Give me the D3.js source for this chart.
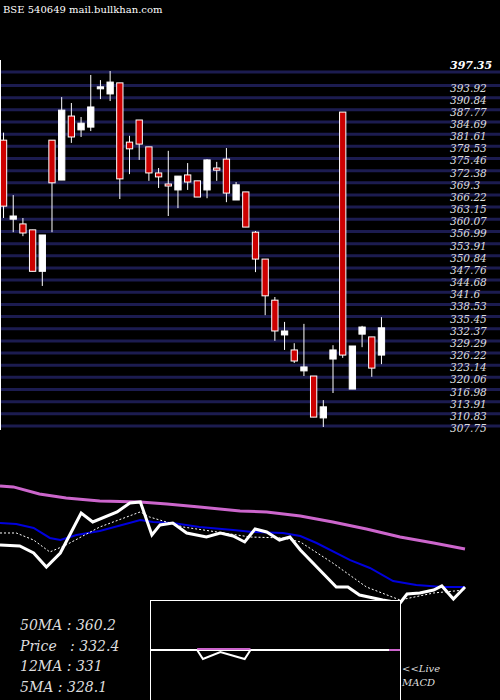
<!DOCTYPE html>
<html><head><meta charset="utf-8">
<script src="https://cdn.jsdelivr.net/npm/d3@7"></script>
<style>body{margin:0;background:#000}</style>
</head><body><div id="chart"></div>
<script>
// price grid labels (right side)
const levels = [397.35,393.92,390.84,387.77,384.69,381.61,378.53,375.46,372.38,369.3,366.22,363.15,360.07,356.99,353.91,350.84,347.76,344.68,341.6,338.53,335.45,332.37,329.29,326.22,323.14,320.06,316.98,313.91,310.83,307.75];

// candles: open, high, low, close
const opens  = [380.1,360.1,358.9,357.4,346.9,380.1,370.0,386.2,382.7,383.4,393.6,391.8,394.6,379.6,385.2,378.4,371.8,369.0,367.5,371.3,369.8,367.5,373.05,375.3,364.95,367.0,356.8,350.0,339.6,330.8,327.0,321.7,320.4,309.8,324.7,387.2,317.1,331.0,330.3,325.7];
const highs  = [382.0,366.2,360.4,357.4,356.1,380.1,391.0,389.5,385.96,396.6,395.3,397.6,394.6,381.2,385.2,378.4,373.05,377.4,371.0,374.3,369.8,375.3,374.6,378.1,369.5,367.0,357.1,350.0,340.4,334.1,328.7,333.6,320.4,314.3,328.2,387.2,328.0,333.1,330.3,335.3];
const lows   = [360.4,356.8,355.8,346.9,343.2,356.8,370.0,379.4,380.9,382.4,390.5,390.0,365.2,371.5,375.1,369.8,368.0,360.9,362.9,367.5,365.7,365.4,369.8,364.4,364.95,358.1,346.7,335.8,329.3,327.0,323.7,320.4,310.0,307.5,316.1,325.0,317.1,327.7,320.2,323.4];
const closes = [363.4,360.9,356.6,346.9,356.1,369.3,387.7,380.9,384.4,388.5,393.6,394.8,370.3,377.9,379.1,371.8,370.8,368.6,371.0,369.5,365.7,375.1,372.5,366.7,368.8,358.1,350.0,340.7,331.8,331.8,324.2,322.7,310.0,312.6,327.0,325.7,328.0,332.8,322.4,332.6];

// moving averages (day position, value)
const ma50 = [[0,408.7],[1.15,407.9],[3.4,402.5],[5.7,399.4],[8.6,397.1],[12.1,396.4],[14.4,394.8],[17.2,392.5],[20.7,389.4],[23,388.7],[25.9,385.6],[28.7,381.0],[31.6,375.6],[34.5,369.4],[37.4,364.8],[40.1,360.2]];
const ma12 = [[0,380.2],[1.4,379.4],[2.9,376.4],[4.3,368.7],[5.2,367.1],[6.6,371.0],[8.6,374.0],[12.1,382.5],[13.2,381.0],[14.9,380.2],[17.2,377.1],[20.1,374.8],[21.8,373.3],[24.4,372.5],[25.9,370.2],[27.3,364.8],[30.2,351.7],[31.9,345.6],[33.9,335.6],[35.9,332.5],[38.2,331.0],[40.1,331.0]];
const priceLine = [[0,363.3],[1.7,362.5],[2.9,357.1],[4.0,346.3],[5.2,357.1],[7.0,387.9],[8.0,381.0],[10.1,388.7],[11.2,395.6],[12.1,396.4],[13.1,371.0],[13.8,378.7],[14.9,380.2],[16.1,372.5],[17.8,369.4],[19.0,372.5],[20.1,370.2],[21.1,365.6],[22.0,375.6],[23.0,373.3],[24.1,367.1],[25.0,369.4],[25.9,359.4],[29.0,331.0],[30.0,331.0],[31.0,324.8],[32.2,322.5],[33.0,321.0],[34.5,318.7],[35.1,325.6],[36.2,326.4],[37.4,328.7],[38.1,331.8],[39.1,321.7],[40.1,331.0]];
const ma5 = [[0,372.5],[1.4,372.5],[2.9,367.1],[4.3,357.9],[5.7,363.3],[8.6,377.1],[12.1,388.7],[12.9,384.8],[15.8,377.1],[18.7,373.3],[21.6,369.4],[24.4,368.7],[25.9,365.6],[28.7,349.4],[31.6,331.0],[34.5,321.0],[37.4,326.4],[40.1,328.7]];

// MACD (day position, value)
const macd = [[17,0],[17.5,-0.9],[19,-0.2],[21.1,-0.9],[21.6,0]];

const infoLabels = ["50MA : 360.2", "Price   : 332.4", "12MA : 331", "5MA : 328.1"];

const W = 500, H = 700;
const svg = d3.select("#chart").append("svg").attr("width", W).attr("height", H)
  .style("background", "#000");

const yP = d3.scaleLinear().domain([307.75, 397.35]).range([426, 72]);
const xC = d3.scaleBand().domain(d3.range(opens.length)).range([-3, 388]).padding(0.35);

// grid lines
svg.append("g").selectAll("line").data(levels).join("line")
  .attr("x1", 0).attr("x2", 500)
  .attr("y1", d => yP(d)).attr("y2", d => yP(d))
  .attr("stroke", "#1c1c50").attr("stroke-width", 3);

svg.append("line").attr("x1", 0.5).attr("x2", 0.5).attr("y1", 60).attr("y2", 430)
  .attr("stroke", "#fff").attr("stroke-width", 1);

svg.append("g").selectAll("text").data(levels).join("text")
  .attr("x", 450).attr("y", (d, i) => i == 0 ? yP(d) - 6 : yP(d) + 3)
  .attr("dominant-baseline", "middle")
  .attr("font-family", "DejaVu Serif").attr("font-style", "italic")
  .attr("font-size", (d, i) => i == 0 ? 11 : 10.5)
  .attr("font-weight", (d, i) => i == 0 ? "bold" : "normal")
  .attr("fill", (d, i) => i == 0 ? "#fff" : "#ddd")
  .text(d => d);

// candles
const candles = svg.append("g").selectAll("g").data(opens.map((o, i) => ({i, o, h: highs[i], l: lows[i], c: closes[i]})))
  .join("g");
candles.append("line")
  .attr("x1", d => xC(d.i) + xC.bandwidth() / 2).attr("x2", d => xC(d.i) + xC.bandwidth() / 2)
  .attr("y1", d => yP(d.h)).attr("y2", d => yP(d.l))
  .attr("stroke", "#fff").attr("stroke-width", 1);
candles.append("rect")
  .attr("x", d => xC(d.i)).attr("width", xC.bandwidth())
  .attr("y", d => yP(Math.max(d.o, d.c)))
  .attr("height", d => Math.max(2, Math.abs(yP(d.o) - yP(d.c))))
  .attr("fill", d => d.c < d.o ? "#cc0000" : "#fff")
  .attr("stroke", "#fff").attr("stroke-width", 1);

svg.append("text").attr("x", 3).attr("y", 13)
  .attr("font-family", "DejaVu Serif").attr("font-size", 10).attr("fill", "#fff")
  .text("BSE 540649 mail.bullkhan.com");

// lower panel
const xM = d3.scaleLinear().domain([0, 40.1]).range([0, 465]);
const yM = d3.scaleLinear().domain([331, 360.2]).range([587, 549]);
const line = d3.line().x(d => xM(d[0])).y(d => yM(d[1]));

svg.append("path").datum(ma50).attr("d", line).attr("fill", "none").attr("stroke", "#cc66cc").attr("stroke-width", 3);
svg.append("path").datum(ma12).attr("d", line).attr("fill", "none").attr("stroke", "#0000dd").attr("stroke-width", 2);
svg.append("path").datum(ma5).attr("d", line).attr("fill", "none").attr("stroke", "#fff").attr("stroke-width", 1).attr("stroke-dasharray", "2,2");
svg.append("path").datum(priceLine).attr("d", line).attr("fill", "none").attr("stroke", "#fff").attr("stroke-width", 3);

// MACD box
svg.append("rect").attr("x", 150.5).attr("y", 600.5).attr("width", 250).attr("height", 100)
  .attr("fill", "#000").attr("stroke", "#fff").attr("stroke-width", 1);
const yD = d3.scaleLinear().domain([-1, 0]).range([660, 650]);
const xD = d3.scaleLinear().domain([0, 40.1]).range([0, 465]);
svg.append("line").attr("x1", 151).attr("x2", 389).attr("y1", 650).attr("y2", 650).attr("stroke", "#fff").attr("stroke-width", 2);
svg.append("line").attr("x1", 389).attr("x2", 400).attr("y1", 650).attr("y2", 650).attr("stroke", "#cc66cc").attr("stroke-width", 2);
svg.append("line").attr("x1", xD(17)).attr("x2", xD(21.6)).attr("y1", 649).attr("y2", 649).attr("stroke", "#cc66cc").attr("stroke-width", 2);
svg.append("path").datum(macd).attr("d", d3.line().x(d => xD(d[0])).y(d => yD(d[1])))
  .attr("fill", "none").attr("stroke", "#fff").attr("stroke-width", 2);

svg.append("text").attr("x", 402).attr("y", 672).attr("font-family", "DejaVu Serif").attr("font-style", "italic")
  .attr("font-size", 10).attr("fill", "#ddd").text("<<Live");
svg.append("text").attr("x", 402).attr("y", 686).attr("font-family", "DejaVu Serif").attr("font-style", "italic")
  .attr("font-size", 10).attr("fill", "#ddd").text("MACD");

svg.append("g").selectAll("text").data(infoLabels).join("text")
  .attr("x", 20).attr("y", (d, i) => 630 + i * 20.5)
  .attr("font-family", "DejaVu Serif").attr("font-style", "italic")
  .attr("font-size", 14).attr("fill", "#ddd").attr("xml:space", "preserve")
  .style("white-space", "pre")
  .text(d => d);
</script></body></html>
